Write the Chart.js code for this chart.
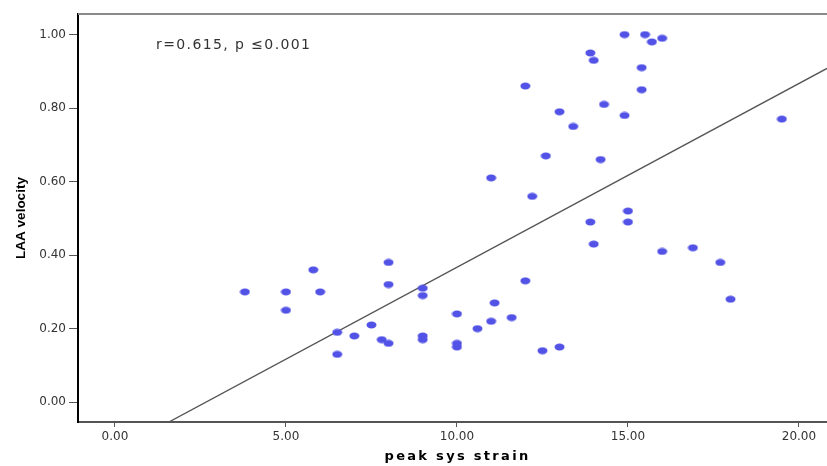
<!DOCTYPE html>
<html>
<head>
<meta charset="utf-8">
<script src="https://cdn.jsdelivr.net/npm/chart.js@4"></script>
<style>
  html, body { margin: 0; padding: 0; background: #fff; }
  #wrap { width: 827px; height: 466px; position: relative; }
</style>
</head>
<body>
<div id="wrap"><canvas id="c" width="827" height="466"></canvas></div>
<script>
// ---- data ----
const strain = [3.8,5.0,5.0,5.8,6.0,6.5,6.5,7.0,7.5,7.8,8.0,8.0,8.0,9.0,9.0,9.0,9.0,10.0,10.0,10.0,10.6,11.0,11.1,11.6,12.0,12.5,13.0,11.0,12.0,12.2,12.6,13.0,13.4,13.9,14.0,13.9,14.0,14.2,14.3,14.9,14.9,15.0,15.0,15.5,15.4,15.4,15.7,16.0,16.0,16.9,17.7,18.0,19.5];
const velocity = [0.30,0.30,0.25,0.36,0.30,0.19,0.13,0.18,0.21,0.17,0.16,0.38,0.32,0.31,0.29,0.18,0.17,0.24,0.16,0.15,0.20,0.22,0.27,0.23,0.33,0.14,0.15,0.61,0.86,0.56,0.67,0.79,0.75,0.95,0.93,0.49,0.43,0.66,0.81,1.00,0.78,0.52,0.49,1.00,0.91,0.85,0.98,0.99,0.41,0.42,0.38,0.28,0.77];
const xTicks = [0, 5, 10, 15, 20];
const yTicks = [0, 0.2, 0.4, 0.6, 0.8, 1.0];
const xRange = [-1.08, 20.82];
const yRange = [-0.054, 1.056];
const fitIntercept = -0.133;
const fitSlope = 0.050;
const annotationText = 'r=0.615, p \u22640.001';
const xTitle = 'peak sys strain';
const yTitle = 'LAA velocity';

// ---- build ----
const points = strain.map((x, i) => ({ x: x, y: velocity[i] }));
const fitLine = xRange.map(x => ({ x: x, y: fitIntercept + fitSlope * x }));

// ellipse marker
const dot = document.createElement('canvas');
dot.width = 11; dot.height = 8;
(function () {
  const g = dot.getContext('2d');
  g.fillStyle = '#5252e6';
  g.beginPath();
  g.ellipse(5.5, 4, 5, 3.4, 0, 0, Math.PI * 2);
  g.fill();
})();

const decor = {
  id: 'decor',
  afterDraw(chart) {
    const ctx = chart.ctx, a = chart.chartArea;
    ctx.save();
    // top frame line
    ctx.strokeStyle = '#8a8a8a';
    ctx.lineWidth = 2;
    ctx.beginPath();
    ctx.moveTo(a.left, a.top);
    ctx.lineTo(a.right, a.top);
    ctx.stroke();
    // annotation
    ctx.fillStyle = '#333';
    ctx.font = '14px "DejaVu Sans"';
    ctx.textAlign = 'left';
    ctx.textBaseline = 'middle';
    try { ctx.letterSpacing = '1.4px'; } catch (e) {}
    ctx.fillText(annotationText, a.left + 78, a.top + 31);
    // x title
    ctx.fillStyle = '#000';
    ctx.font = 'bold 13px "DejaVu Sans"';
    ctx.textAlign = 'center';
    try { ctx.letterSpacing = '2.3px'; } catch (e) {}
    ctx.fillText(xTitle, (a.left + a.right) / 2 + 5, 457);
    ctx.restore();
  }
};

new Chart(document.getElementById('c'), {
  type: 'scatter',
  data: {
    datasets: [
      {
        type: 'scatter',
        data: points,
        pointStyle: dot,
        pointRadius: 4,
        pointHoverRadius: 4,
        order: 1
      },
      {
        type: 'line',
        data: fitLine,
        borderColor: '#555',
        borderWidth: 1.3,
        pointRadius: 0,
        fill: false,
        tension: 0,
        order: 2
      }
    ]
  },
  options: {
    responsive: false,
    animation: false,
    events: [],
    layout: { autoPadding: false, padding: { top: 14, left: 0, right: 0, bottom: 0 } },
    plugins: { legend: { display: false }, tooltip: { enabled: false } },
    scales: {
      x: {
        type: 'linear',
        position: 'bottom',
        min: xRange[0],
        max: xRange[1],
        afterBuildTicks: s => { s.ticks = xTicks.map(v => ({ value: v })); },
        afterFit: s => { s.height = 44; s.paddingLeft = 0; s.paddingRight = 0; },
        border: { color: '#555', width: 2 },
        grid: { display: true, drawOnChartArea: false, drawTicks: true, tickLength: 5, tickColor: '#555', tickWidth: 1 },
        ticks: {
          padding: 3,
          maxRotation: 0,
          color: '#333',
          font: { family: 'DejaVu Sans', size: 12 },
          callback: v => Number(v).toFixed(2)
        },
        title: { display: false }
      },
      y: {
        type: 'linear',
        position: 'left',
        min: yRange[0],
        max: yRange[1],
        afterBuildTicks: s => { s.ticks = yTicks.map(v => ({ value: v })); },
        afterFit: s => { s.width = 78; s.paddingTop = 0; s.paddingBottom = 0; },
        border: { color: '#000', width: 2 },
        grid: { display: true, drawOnChartArea: false, drawTicks: true, tickLength: 9, tickColor: '#555', tickWidth: 1 },
        ticks: {
          padding: 3,
          color: '#333',
          font: { family: 'DejaVu Sans', size: 12 },
          callback: v => Number(v).toFixed(2)
        },
        title: {
          display: true,
          text: yTitle,
          color: '#000',
          font: { family: 'Liberation Sans', size: 13.5, weight: 'bold' },
          padding: { top: 13, bottom: 0 }
        }
      }
    }
  },
  plugins: [decor]
});
</script>
</body>
</html>
